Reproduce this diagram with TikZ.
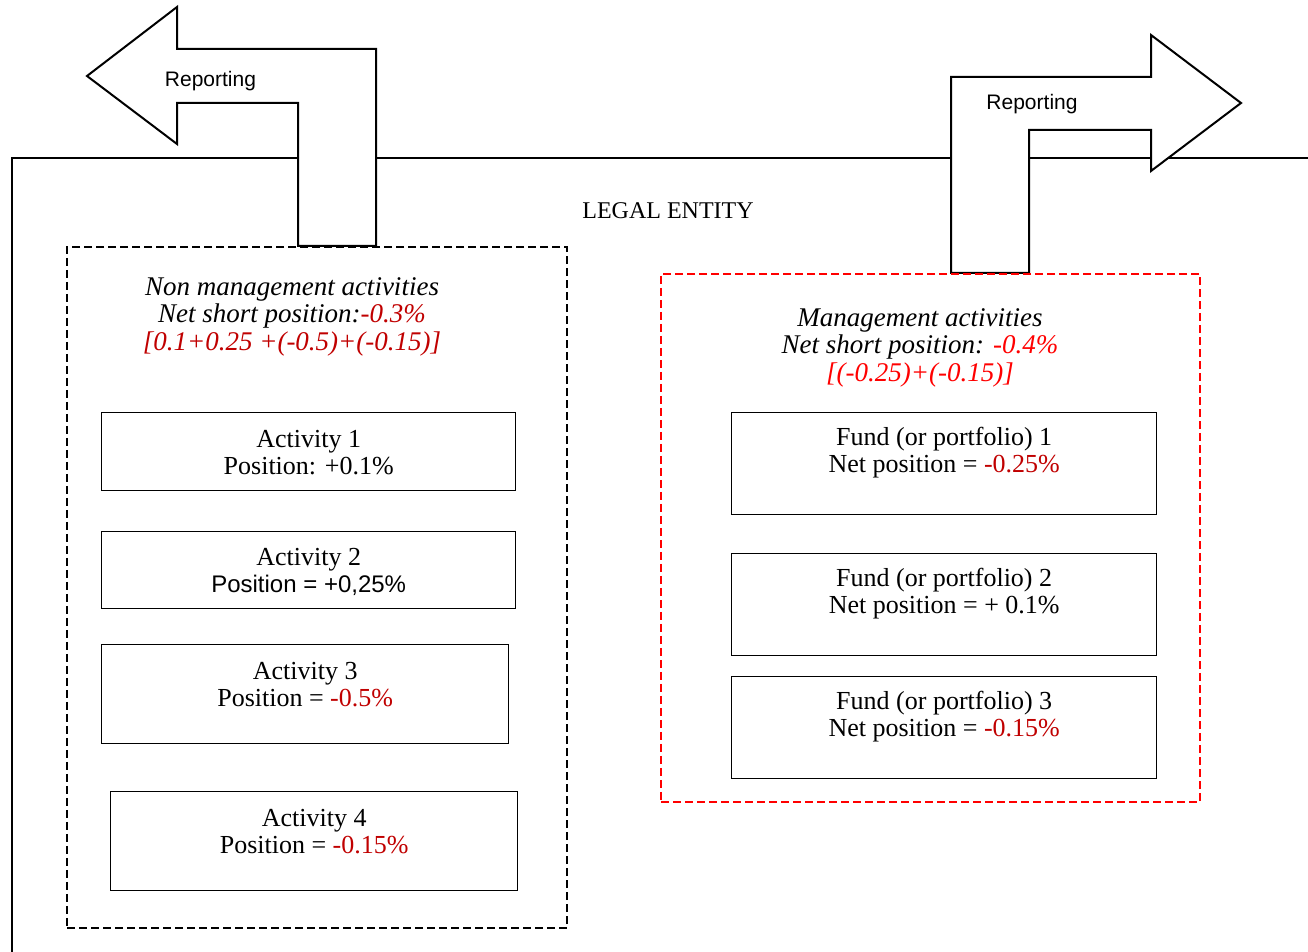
\documentclass[tikz,border=0pt]{standalone}
\usepackage{fontspec}
\setmainfont{Liberation Serif}
\newfontfamily\arialfont{Liberation Sans}
\usetikzlibrary{positioning}
\definecolor{darkred}{HTML}{C00000}
\definecolor{brightred}{HTML}{FF0000}
\tikzset{
  block/.style={
    rectangle,
    draw=black,
    line width=0.7pt,
    anchor=north west,
    inner sep=0pt
  },
  boxtext/.style={
    align=center,
    inner sep=0pt,
    font=\fontsize{13}{13.5}\selectfont
  },
  headtext/.style={
    align=center,
    inner sep=0pt,
    font=\fontsize{13.5}{13.75}\selectfont\itshape
  },
  group/.style={
    rectangle,
    draw=black,
    line width=1pt,
    dash pattern=on 4pt off 2pt,
    anchor=north west,
    inner sep=0pt
  },
  reportarrow/.style={draw=black, fill=white, line width=1pt, line join=miter},
  reportlabel/.style={inner sep=0pt, font=\arialfont\fontsize{10.5}{12}\selectfont},
}

\begin{document}
\begin{tikzpicture}[x=0.5pt, y=-0.5pt]
        \useasboundingbox (0,0) rectangle (1308,952);

        % legal entity
        \draw [line width=0.6pt] (12,952) -- (12,158) -- (1308,158);
        \node [font=\fontsize{12}{14}\selectfont] (entity) at (668,211) {LEGAL ENTITY};

        % reporting arrows
        \draw [reportarrow] (87,76) -- (177,7) -- (177,49) -- (376,49) -- (376,246) -- (298,246) -- (298,103) -- (177,103) -- (177,144) -- cycle;
        \node [reportlabel] (repleft) at (210.5,81) {Reporting};
        \draw [reportarrow] (951,273) -- (951,77) -- (1151,77) -- (1151,35) -- (1241,103) -- (1151,171) -- (1151,130) -- (1029,130) -- (1029,273) -- cycle;
        \node [reportlabel] (repright) at (1032,104) {Reporting};

        % groups
        \node [group, minimum width=250pt, minimum height=340.5pt] (nonmgmt) at (66,246) {};
        \node [group, draw=brightred, minimum width=269.5pt, minimum height=264pt] (mgmt) at (660,273) {};
        \node [headtext] (nonmgmthead) at (292,316.5) {Non management activities\\Net short position:\textcolor{darkred}{-0.3\%}\\\textcolor{darkred}{[0.1+0.25 +(-0.5)+(-0.15)]}};
        \node [headtext] (mgmthead) at (920,347.5) {Management activities\\Net short position: \textcolor{brightred}{-0.4\%}\\\textcolor{brightred}{[(-0.25)+(-0.15)]}};

        % blocks
        \node [block, minimum width=207pt, minimum height=39pt] (act1) at (101,412) {};
        \node [block, minimum width=207pt, minimum height=38.5pt] (act2) at (101,531) {};
        \node [block, minimum width=203.5pt, minimum height=49.5pt] (act3) at (101,644) {};
        \node [block, minimum width=203.5pt, minimum height=49.5pt] (act4) at (110,791) {};
        \node [block, minimum width=212.5pt, minimum height=51pt] (fund1) at (731,412) {};
        \node [block, minimum width=212.5pt, minimum height=51pt] (fund2) at (731,553) {};
        \node [block, minimum width=212.5pt, minimum height=51pt] (fund3) at (731,676) {};

        % block texts
        \node [boxtext] (act1txt) at ([yshift=-20.25pt]act1.north) {Activity 1\\Position: +0.1\%};
        \node [boxtext] (act2txt) at ([yshift=-20.25pt]act2.north) {Activity 2\\{\arialfont\fontsize{12}{13.5}\selectfont Position = +0,25\%}};
        \node [boxtext] (act3txt) at ([yshift=-20.25pt]act3.north) {Activity 3\\Position = \textcolor{darkred}{-0.5\%}};
        \node [boxtext] (act4txt) at ([yshift=-20.25pt]act4.north) {Activity 4\\Position = \textcolor{darkred}{-0.15\%}};
        \node [boxtext] (fund1txt) at ([yshift=-20.25pt]fund1.north) {Fund (or portfolio) 1\\Net position = \textcolor{darkred}{-0.25\%}};
        \node [boxtext] (fund2txt) at ([yshift=-20.25pt]fund2.north) {Fund (or portfolio) 2\\Net position = + 0.1\%};
        \node [boxtext] (fund3txt) at ([yshift=-20.25pt]fund3.north) {Fund (or portfolio) 3\\Net position = \textcolor{darkred}{-0.15\%}};
\end{tikzpicture}
\end{document}
